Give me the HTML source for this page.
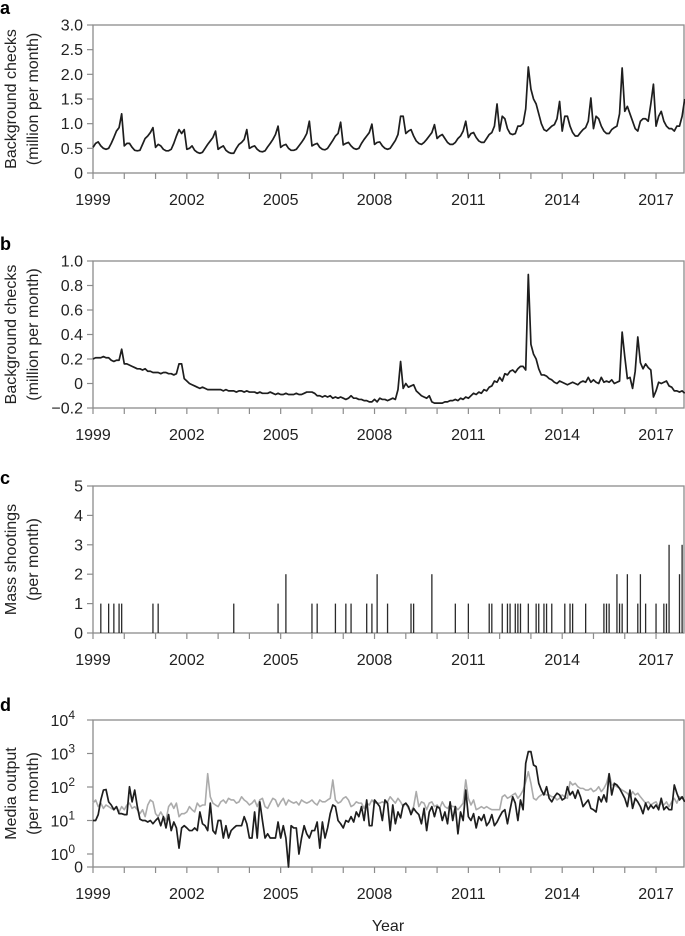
<!DOCTYPE html>
<html><head><meta charset="utf-8">
<style>
html,body{margin:0;padding:0;background:#fff;}
svg{display:block;font-family:"Liberation Sans",Arial,sans-serif;}
</style></head>
<body>
<svg id="chart" width="685" height="936" viewBox="0 0 685 936" xmlns="http://www.w3.org/2000/svg"></svg>
<script>
// ---------- data ----------
const yearTickLabels = ["1999","2002","2005","2008","2011","2014","2017"];
const startYear = 1999;
const nYears = 19;

const checksA = [
0.52,0.6,0.63,0.55,0.5,0.48,0.5,0.6,0.72,0.85,0.92,1.2,
0.55,0.6,0.6,0.52,0.46,0.45,0.46,0.58,0.7,0.75,0.82,0.92,
0.52,0.58,0.55,0.48,0.45,0.45,0.48,0.6,0.75,0.88,0.8,0.88,
0.48,0.5,0.55,0.46,0.42,0.40,0.42,0.5,0.58,0.65,0.72,0.85,
0.48,0.52,0.55,0.46,0.42,0.40,0.40,0.5,0.58,0.62,0.68,0.88,
0.5,0.53,0.55,0.48,0.44,0.43,0.45,0.53,0.6,0.68,0.78,0.95,
0.52,0.56,0.58,0.5,0.46,0.46,0.48,0.55,0.62,0.7,0.8,1.05,
0.55,0.58,0.6,0.52,0.48,0.47,0.5,0.58,0.66,0.75,0.8,1.03,
0.57,0.6,0.62,0.55,0.5,0.48,0.5,0.6,0.68,0.75,0.82,0.99,
0.58,0.62,0.63,0.55,0.5,0.48,0.5,0.58,0.66,0.78,1.15,1.15,
0.8,0.85,0.88,0.75,0.65,0.6,0.58,0.62,0.68,0.75,0.82,0.98,
0.7,0.75,0.78,0.7,0.62,0.58,0.58,0.62,0.7,0.75,0.85,1.05,
0.72,0.8,0.82,0.72,0.65,0.62,0.62,0.7,0.78,0.82,0.95,1.4,
0.85,1.15,1.1,0.9,0.8,0.78,0.8,0.95,0.95,1.0,1.3,2.15,
1.7,1.5,1.4,1.2,1.0,0.88,0.85,0.9,0.95,0.98,1.1,1.45,
0.85,1.15,1.15,0.95,0.82,0.75,0.75,0.82,0.88,0.92,1.05,1.52,
0.9,1.15,1.1,0.95,0.85,0.8,0.8,0.88,0.92,0.95,1.2,2.13,
1.25,1.35,1.2,1.05,0.9,0.85,1.05,1.1,1.1,1.05,1.4,1.8,
0.95,1.15,1.25,1.05,0.95,0.9,0.9,0.85,0.95,0.95,1.15,1.5];

const checksB = [
0.20,0.21,0.21,0.21,0.22,0.21,0.21,0.19,0.18,0.19,0.19,0.28,
0.16,0.16,0.15,0.14,0.13,0.12,0.12,0.11,0.12,0.10,0.10,0.09,
0.09,0.09,0.08,0.09,0.09,0.08,0.08,0.07,0.08,0.16,0.16,0.04,
0.02,0.0,-0.01,-0.02,-0.03,-0.04,-0.03,-0.04,-0.05,-0.05,-0.05,-0.05,
-0.05,-0.05,-0.06,-0.05,-0.06,-0.06,-0.06,-0.07,-0.06,-0.06,-0.07,-0.06,
-0.07,-0.07,-0.07,-0.08,-0.07,-0.08,-0.08,-0.08,-0.07,-0.08,-0.09,-0.08,
-0.09,-0.09,-0.08,-0.09,-0.09,-0.09,-0.08,-0.09,-0.09,-0.08,-0.07,-0.07,
-0.07,-0.08,-0.1,-0.1,-0.11,-0.1,-0.11,-0.1,-0.12,-0.11,-0.12,-0.11,
-0.12,-0.13,-0.12,-0.1,-0.12,-0.12,-0.13,-0.13,-0.14,-0.14,-0.15,-0.15,
-0.13,-0.15,-0.12,-0.13,-0.13,-0.14,-0.13,-0.12,-0.13,-0.05,0.18,-0.04,
0.0,-0.03,-0.02,-0.01,-0.06,-0.08,-0.1,-0.11,-0.12,-0.1,-0.15,-0.16,
-0.16,-0.16,-0.16,-0.15,-0.15,-0.14,-0.14,-0.13,-0.14,-0.12,-0.13,-0.11,
-0.12,-0.1,-0.08,-0.09,-0.07,-0.08,-0.05,-0.06,-0.03,-0.02,0.02,0.01,
0.05,0.02,0.08,0.07,0.1,0.11,0.09,0.12,0.14,0.14,0.11,0.89,
0.32,0.24,0.2,0.12,0.07,0.07,0.06,0.04,0.03,0.01,0.0,0.02,
0.01,0.0,-0.01,0.0,0.01,0.0,-0.01,0.01,0.02,0.01,0.05,0.01,
0.03,0.01,0.0,0.05,0.01,0.02,0.01,0.03,0.0,0.01,0.02,0.42,
0.22,0.04,0.05,-0.04,0.1,0.38,0.17,0.12,0.16,0.13,0.11,-0.11,
-0.06,0.01,0.0,0.01,0.02,-0.02,-0.03,-0.06,-0.06,-0.07,-0.06,-0.08];

const shootingMonths = [3,6,8,10,11,23,25,54,71,74,84,86,93,97,99,105,107,109,113,122,123,130,139,144,152,153,157,159,160,162,163,164,167,170,171,173,174,176,181,183,184,189,196,197,198,201,202,203,205,209,210,212,216,219,220,221,225,226];
const shootingCounts = [1,1,1,1,1,1,1,1,1,2,1,1,1,1,1,1,1,2,1,1,1,2,1,1,1,1,1,1,1,1,1,1,1,1,1,1,1,1,1,1,1,1,1,1,1,2,1,1,2,1,2,1,1,1,1,3,2,3];

const mediaBlack = [
10,10,15,41,81,84,36,29,21,26,16,16,
15,15,102,36,81,26,11,10,10,9,10,8,
10,12,7,13,6,15,5,9,6,1.5,6,7,
6,5,5,6,5,18,8,7,5,33,5,4,
10,10,3,7,3,5,6,7,7,7,13,8,
3,3,18,3,36,10,3,4,3,3,3,9,
3,7,3,0,7,6,6,1,3,7,4,3,
5,5,9,1.5,9,3,6,16,29,26,10,8,
6,10,9,13,9,18,13,26,10,41,7,7,
41,33,26,10,41,33,5,29,8,18,12,29,
33,26,15,23,18,15,8,23,5,18,26,13,
26,23,10,18,8,36,10,26,4,18,10,81,
13,10,16,6,13,10,15,7,9,15,7,9,
13,18,21,8,21,51,33,10,41,21,509,1135,
1135,454,405,129,81,58,102,46,36,51,65,58,
41,46,102,58,73,46,81,51,26,33,41,23,
21,18,51,36,58,36,250,58,129,115,91,65,
46,26,81,23,46,36,26,16,33,21,29,23,
29,21,46,21,26,21,21,115,65,41,51,36];

const mediaGray = [
33,41,26,33,23,29,26,23,21,26,18,26,
21,29,33,23,26,21,16,21,13,29,41,36,
16,13,18,13,10,26,33,23,33,13,16,16,
18,26,21,18,33,26,29,29,250,51,33,29,
26,36,41,33,46,41,41,33,36,51,41,36,
29,33,41,26,41,46,26,23,33,46,41,26,
36,46,29,41,36,33,36,29,41,36,33,36,
41,33,29,41,36,36,41,46,162,41,33,36,
46,51,41,26,29,36,33,33,23,33,29,41,
33,33,33,36,33,36,51,41,33,46,36,26,
33,23,18,26,73,26,36,33,21,33,36,26,
29,23,36,26,23,29,26,26,21,26,33,162,
46,29,41,21,23,26,23,26,23,21,21,21,
21,51,58,46,51,58,65,46,58,81,144,287,
129,46,41,51,58,65,58,58,51,51,41,46,
58,51,46,144,115,129,102,91,91,81,81,91,
73,81,102,73,91,129,250,115,115,102,91,81,
73,65,51,73,58,65,51,41,33,36,29,33,
36,26,33,29,36,26,36,46,33,51,46,41];

const ticksA = [0,0.5,1.0,1.5,2.0,2.5,3.0];
const ticksB = [-0.2,0,0.2,0.4,0.6,0.8,1.0];
const ticksC = [0,1,2,3,4,5];
const ticksDexp = [0,1,2,3,4];

// ---------- layout ----------
const NS = "http://www.w3.org/2000/svg";
const svg = document.getElementById("chart");
const X0 = 93, X1 = 684;
const pxPerYear = 31.28;
function xMonth(m){ return X0 + m*pxPerYear/12; }
function xYear(y){ return X0 + (y-startYear)*pxPerYear; }
const AXIS = "#8c8c8c", TXT = "#222";

function el(tag, attrs, parent){
  const e = document.createElementNS(NS, tag);
  for (const k in attrs) e.setAttribute(k, attrs[k]);
  (parent||svg).appendChild(e);
  return e;
}
function txt(str, attrs, parent){
  const t = el("text", attrs, parent);
  t.textContent = str;
  return t;
}

function frame(g, top, bottom){
  const f = el("rect", {x:X0, y:top, width:X1-X0, height:bottom-top, fill:"none", stroke:AXIS, "stroke-width":1.3}, g);
  
  
  for (let i=0;i<nYears;i++){
    const x = xYear(startYear+i);
    const t = el("line", {x1:x, x2:x, y1:bottom, y2:bottom+6, stroke:AXIS, "stroke-width":1.2}, g);
    
    
  }
  yearTickLabels.forEach(lbl=>{
    const t = txt(lbl, {x:xYear(+lbl), y:bottom+32, "text-anchor":"middle", "font-size":16, fill:TXT}, g);
    
    
  });
}
function yTick(g, y, label){
  const t = el("line", {x1:X0-6, x2:X0, y1:y, y2:y, stroke:AXIS, "stroke-width":1.2}, g);
  
  
  if (label !== null){
    const l = txt(label, {x:X0-10, y:y+5.5, "text-anchor":"end", "font-size":16, fill:TXT}, g);
    
    
  }
}
function yTitle(g, top, bottom, l1, l2){
  const cy = (top+bottom)/2;
  const t1 = txt(l1, {x:0, y:0, transform:`translate(16,${cy}) rotate(-90)`, "text-anchor":"middle", "font-size":16, fill:TXT}, g);
  
  
  const t2 = txt(l2, {x:0, y:0, transform:`translate(38,${cy}) rotate(-90)`, "text-anchor":"middle", "font-size":16, fill:TXT}, g);
  
  
}
function panelLetter(g, letter, y){
  const t = txt(letter, {x:0, y:y, "font-size":18, "font-weight":"bold", fill:"#000"}, g);
  
  
}
function linePath(g, vals, yfn, color, w, name){
  let d = "";
  vals.forEach((v,i)=>{ d += (i?"L":"M") + xMonth(i).toFixed(2) + "," + yfn(v).toFixed(2); });
  const p = el("path", {d:d, fill:"none", stroke:color, "stroke-width":w, "stroke-linejoin":"round"}, g);
  
  
  return p;
}

// Panel a
const gA = el("g", {});


const aTop=25, aBot=173;
const yA = v => aBot - v/3*(aBot-aTop);
frame(gA, aTop, aBot);
ticksA.forEach(v=>yTick(gA, yA(v), v===0?"0":v.toFixed(1)));
yTitle(gA, aTop, aBot, "Background checks", "(million per month)");
panelLetter(gA, "a", 14);
linePath(gA, checksA, yA, "#1e1e1e", 1.7, "checks-line");

// Panel b
const gB = el("g", {});


const bTop=261, bBot=408;
const yB = v => bBot - (v+0.2)/1.2*(bBot-bTop);
frame(gB, bTop, bBot);
ticksB.forEach(v=>yTick(gB, yB(v), v===0?"0":(v<0?"\u2212"+Math.abs(v).toFixed(1):v.toFixed(1))));
yTitle(gB, bTop, bBot, "Background checks", "(million per month)");
panelLetter(gB, "b", 250);
linePath(gB, checksB, yB, "#1e1e1e", 1.7, "detrended-checks-line");

// Panel c
const gC = el("g", {});


const cTop=486, cBot=633;
const yC = v => cBot - v/5*(cBot-cTop);
frame(gC, cTop, cBot);
ticksC.forEach(v=>yTick(gC, yC(v), String(v)));
yTitle(gC, cTop, cBot, "Mass shootings", "(per month)");
panelLetter(gC, "c", 484);
shootingMonths.forEach((m,i)=>{
  const x = xMonth(m);
  const b = el("line", {x1:x, x2:x, y1:yC(0), y2:yC(shootingCounts[i]), stroke:"#2a2a2a", "stroke-width":1.3}, gC);
  
  
});

// Panel d
const gD = el("g", {});


const dTop=720, dBot=867, dOne=854;
const decade = (dOne-dTop)/4;
const yD = v => v>=1 ? dOne - Math.log10(v)*decade : dBot - v*(dBot-dOne);
frame(gD, dTop, dBot);
yTick(gD, dBot, "0");
ticksDexp.forEach(e=>{
  const y = yD(Math.pow(10,e));
  yTick(gD, y, null);
  const t = el("text", {x:X0-10, y:y+6, "text-anchor":"end", "font-size":16, fill:TXT}, gD);
  
  
  const base = document.createElementNS(NS,"tspan"); base.textContent="10"; t.appendChild(base);
  const sup = document.createElementNS(NS,"tspan"); sup.setAttribute("dy","-7"); sup.setAttribute("font-size","12"); sup.textContent=String(e); t.appendChild(sup);
  t.setAttribute("x", X0-18);
});
yTitle(gD, dTop, dBot, "Media output", "(per month)");
panelLetter(gD, "d", 711);
linePath(gD, mediaGray, yD, "#ababab", 1.6, "media-gray-line");
linePath(gD, mediaBlack, yD, "#1e1e1e", 1.7, "media-black-line");

const xt = txt("Year", {x:388, y:931, "text-anchor":"middle", "font-size":16, fill:TXT});


</script>
</body></html>
